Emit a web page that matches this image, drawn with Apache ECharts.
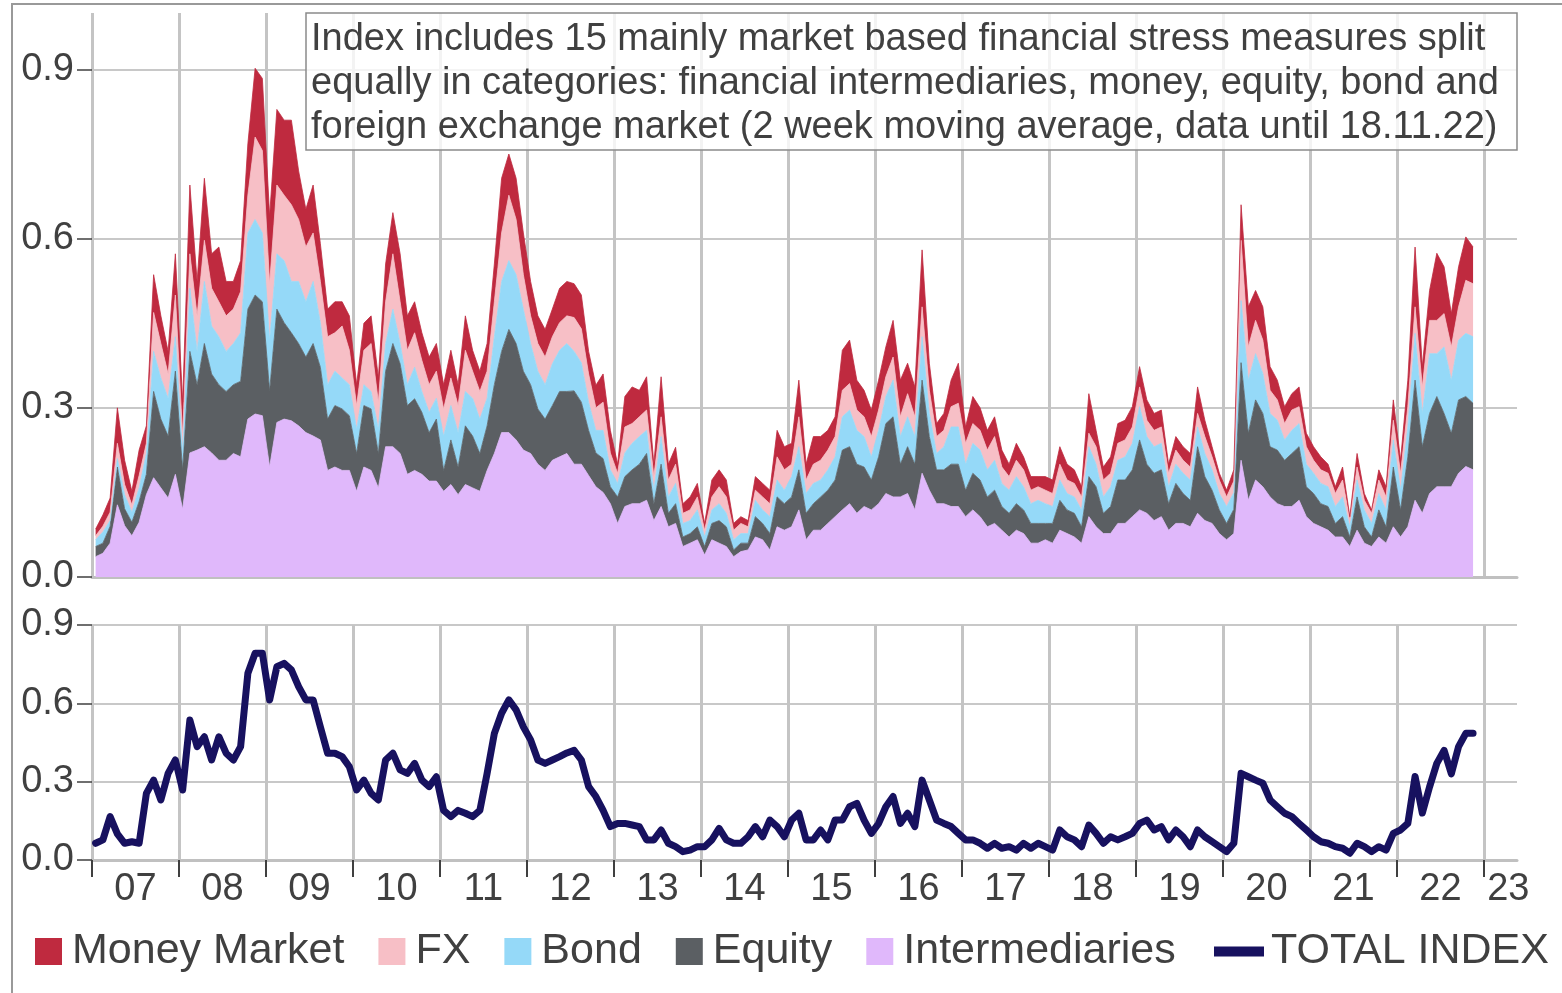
<!DOCTYPE html>
<html>
<head>
<meta charset="utf-8">
<title>Financial stress index</title>
<script src="https://cdn.jsdelivr.net/npm/echarts@6/dist/echarts.min.js"></script>
<style>
  html, body { margin: 0; padding: 0; background: #fff; }
  #chart { width: 1562px; height: 993px; }
</style>
</head>
<body>
<div id="chart"></div>
<script>
// monthly values, Jan 2007 .. Nov 2022 (one row per year)
const startYear = 2007;

const inter = [
  .036,.042,.060,.128,.091,.073,.097,.146,.176,.158,.140,.182,
  .120,.220,.225,.231,.220,.207,.207,.219,.213,.280,.289,.286,
  .195,.274,.280,.277,.268,.256,.250,.243,.189,.195,.189,.189,
  .152,.195,.189,.158,.231,.231,.219,.182,.189,.182,.170,.170,
  .152,.164,.146,.164,.158,.152,.189,.219,.256,.256,.243,.225,
  .219,.200,.189,.207,.213,.219,.200,.200,.180,.160,.150,.130,
  .095,.125,.130,.130,.136,.100,.125,.089,.095,.054,.060,.066,
  .039,.066,.060,.054,.036,.045,.048,.071,.066,.048,.089,.083,
  .089,.119,.066,.083,.083,.095,.107,.119,.130,.113,.125,.119,
  .130,.148,.142,.142,.148,.119,.184,.154,.130,.130,.125,.125,
  .107,.119,.107,.089,.095,.083,.071,.083,.077,.060,.060,.066,
  .060,.083,.077,.071,.060,.107,.089,.077,.077,.095,.095,.107,
  .119,.113,.100,.107,.083,.095,.095,.089,.113,.100,.095,.077,
  .066,.077,.207,.136,.172,.160,.142,.130,.125,.125,.136,.107,
  .095,.089,.083,.071,.071,.054,.083,.060,.054,.071,.060,.089,
  .071,.089,.136,.113,.148,.160,.160,.160,.184,.196,.190
];

const equity = [
  .018,.018,.030,.067,.030,.024,.037,.036,.153,.122,.110,.183,
  .070,.180,.116,.183,.140,.134,.122,.122,.134,.195,.211,.202,
  .135,.201,.171,.156,.146,.134,.164,.129,.091,.109,.109,.097,
  .067,.109,.109,.061,.134,.183,.159,.122,.127,.110,.086,.110,
  .037,.079,.049,.104,.092,.067,.079,.122,.144,.183,.171,.140,
  .122,.098,.091,.097,.116,.110,.130,.110,.080,.060,.060,.030,
  .047,.053,.060,.070,.083,.030,.075,.024,.035,.017,.017,.023,
  .015,.029,.040,.035,.012,.015,.012,.036,.029,.029,.053,.047,
  .053,.071,.047,.047,.059,.059,.065,.106,.101,.087,.070,.053,
  .083,.124,.142,.058,.083,.081,.165,.095,.060,.060,.075,.075,
  .047,.065,.065,.053,.059,.042,.042,.047,.042,.035,.035,.029,
  .035,.053,.042,.042,.029,.071,.071,.036,.048,.077,.077,.083,
  .124,.087,.084,.083,.047,.071,.053,.047,.118,.078,.059,.042,
  .029,.043,.173,.119,.142,.130,.089,.095,.082,.094,.095,.053,
  .053,.041,.042,.024,.036,.017,.059,.029,.017,.048,.029,.106,
  .048,.124,.213,.118,.142,.160,.130,.095,.130,.124,.118
];

const bond = [
  .012,.020,.010,.015,.025,.018,.024,.037,.071,.073,.067,.061,
  .030,.112,.059,.110,.085,.085,.071,.073,.086,.135,.134,.122,
  .090,.098,.110,.091,.110,.098,.110,.079,.061,.061,.055,.055,
  .043,.037,.031,.043,.049,.061,.036,.037,.056,.037,.036,.037,
  .061,.061,.061,.061,.067,.061,.049,.085,.124,.122,.122,.110,
  .073,.067,.061,.074,.073,.085,.070,.070,.050,.040,.050,.030,
  .024,.042,.047,.049,.041,.024,.049,.029,.036,.024,.023,.030,
  .017,.024,.030,.024,.018,.017,.017,.029,.024,.030,.030,.024,
  .036,.041,.035,.036,.030,.036,.041,.059,.065,.060,.054,.041,
  .047,.048,.065,.049,.053,.049,.077,.041,.029,.041,.066,.066,
  .046,.053,.053,.048,.053,.041,.041,.048,.041,.035,.041,.035,
  .030,.036,.029,.029,.030,.053,.040,.029,.035,.035,.041,.047,
  .059,.049,.047,.047,.030,.034,.036,.036,.035,.041,.036,.029,
  .030,.030,.110,.094,.082,.071,.059,.053,.036,.041,.041,.040,
  .036,.036,.035,.030,.035,.018,.030,.030,.024,.029,.030,.048,
  .035,.053,.083,.059,.106,.076,.118,.094,.106,.112,.118
];

const fx = [
  .007,.010,.015,.027,.018,.013,.022,.018,.069,.061,.043,.074,
  .030,.061,.063,.073,.067,.062,.063,.061,.073,.067,.146,.146,
  .100,.122,.116,.136,.110,.097,.086,.073,.085,.068,.092,.061,
  .042,.061,.085,.048,.074,.098,.074,.061,.061,.055,.049,.048,
  .048,.049,.048,.073,.048,.049,.048,.062,.086,.116,.098,.061,
  .049,.049,.049,.048,.049,.049,.060,.060,.050,.040,.050,.030,
  .018,.046,.035,.035,.036,.024,.035,.030,.034,.018,.019,.023,
  .012,.023,.030,.029,.017,.018,.012,.018,.023,.023,.041,.036,
  .022,.053,.024,.034,.035,.035,.036,.047,.047,.036,.035,.036,
  .036,.035,.041,.035,.041,.035,.053,.041,.030,.029,.036,.042,
  .037,.035,.035,.035,.042,.029,.024,.029,.030,.024,.024,.024,
  .023,.028,.024,.024,.023,.024,.031,.030,.024,.030,.030,.029,
  .035,.029,.029,.029,.024,.025,.023,.023,.024,.030,.023,.024,
  .017,.020,.107,.059,.059,.059,.041,.036,.029,.036,.030,.031,
  .023,.024,.024,.023,.030,.011,.023,.017,.018,.024,.023,.035,
  .030,.036,.047,.047,.059,.059,.059,.059,.059,.094,.094
];

const money = [
  .012,.020,.025,.063,.043,.024,.045,.031,.067,.049,.040,.073,
  .060,.122,.061,.110,.061,.097,.061,.049,.055,.091,.122,.128,
  .120,.134,.133,.150,.086,.067,.085,.067,.049,.055,.043,.061,
  .037,.048,.049,.043,.067,.073,.085,.061,.055,.049,.049,.049,
  .043,.049,.037,.061,.037,.036,.049,.067,.097,.073,.073,.074,
  .061,.049,.049,.049,.061,.061,.060,.060,.040,.040,.050,.040,
  .016,.054,.065,.047,.059,.022,.071,.028,.030,.017,.023,.024,
  .012,.030,.030,.030,.012,.012,.011,.024,.024,.024,.047,.041,
  .037,.065,.028,.049,.042,.035,.035,.071,.077,.053,.047,.047,
  .053,.053,.065,.065,.054,.053,.101,.048,.023,.030,.047,.071,
  .029,.048,.040,.035,.035,.030,.022,.030,.023,.024,.018,.024,
  .024,.031,.028,.024,.018,.070,.029,.023,.029,.035,.035,.036,
  .036,.036,.030,.030,.016,.024,.024,.024,.047,.029,.018,.012,
  .012,.020,.063,.071,.053,.059,.042,.035,.030,.029,.035,.024,
  .024,.023,.016,.012,.023,.007,.024,.012,.006,.018,.018,.036,
  .023,.047,.106,.036,.053,.119,.083,.059,.071,.077,.065
];

const total = [
  .064,.077,.166,.100,.064,.070,.064,.255,.306,.230,.332,.383,
  .268,.536,.434,.472,.383,.472,.409,.383,.434,.715,.792,.792,
  .613,.740,.753,.728,.664,.613,.613,.510,.409,.409,.396,.357,
  .268,.306,.255,.230,.383,.409,.345,.332,.370,.306,.281,.319,
  .190,.166,.190,.179,.166,.190,.332,.485,.562,.613,.575,.510,
  .460,.383,.370,.383,.396,.410,.420,.383,.281,.243,.190,.128,
  .140,.140,.134,.128,.077,.077,.115,.064,.051,.032,.038,.051,
  .051,.077,.121,.077,.064,.064,.089,.128,.089,.153,.128,.089,
  .153,.179,.077,.077,.115,.077,.153,.153,.204,.217,.153,.102,
  .140,.204,.243,.140,.179,.128,.306,.230,.153,.140,.128,.102,
  .077,.077,.064,.045,.064,.045,.051,.038,.064,.045,.064,.051,
  .038,.115,.089,.077,.051,.134,.102,.064,.089,.077,.089,.102,
  .140,.153,.115,.128,.077,.115,.089,.051,.115,.089,.070,.051,
  .032,.064,.332,.319,.306,.294,.230,.204,.179,.166,.140,.115,
  .089,.070,.064,.051,.045,.026,.064,.051,.032,.051,.038,.102,
  .115,.140,.320,.180,.280,.370,.420,.330,.434,.485,.485
];

const yearTicks = [2007,2008,2009,2010,2011,2012,2013,2014,2015,2016,2017,2018,2019,2020,2021,2022,2023];
const yearLabelPos = [2007.5,2008.5,2009.5,2010.5,2011.5,2012.5,2013.5,2014.5,2015.5,2016.5,2017.5,2018.5,2019.5,2020.5,2021.5,2022.5,2023.28];
const yTicks = [0, 0.3, 0.6, 0.9];

const note = [
  'Index includes 15 mainly market based financial stress measures split',
  'equally in categories: financial intermediaries, money, equity, bond and',
  'foreign exchange market (2 week moving average, data until 18.11.22)'
];

const colors = {
  money: '#bf2a3f',
  fx: '#f7bfc6',
  bond: '#95d9f8',
  equity: '#5b5f63',
  inter: '#e0b8fb',
  total: '#17115f'
};

// each monthly value sits in the middle of its month (decimal years)
const xs = total.map((_, i) => startYear + (i + 0.5) / 12);
// value first, year second: the stack is then taken on the value dimension
const pairs = arr => arr.map((v, i) => [v, xs[i]]);

const textColor = '#404040';
const xMin = 2007, xMax = 2023.38;

function areaSeries(name, arr, color) {
  return {
    name: name,
    type: 'line',
    stack: 'parts',
    xAxisIndex: 0,
    yAxisIndex: 0,
    data: pairs(arr),
    encode: { x: 1, y: 0 },
    showSymbol: false,
    color: color,
    lineStyle: { width: 0.8, color: color },
    areaStyle: { color: color, opacity: 1 }
  };
}

var myChart = echarts.init(document.getElementById('chart'));

var option = {
  animation: false,
  backgroundColor: '#fff',
  textStyle: { fontFamily: 'Liberation Sans, Arial, sans-serif', color: textColor },
  graphic: [{
    type: 'rect',
    shape: { x: 12, y: 4, width: 1600, height: 1100 },
    style: { fill: 'none', stroke: '#999', lineWidth: 2 },
    z: -10
  }],
  title: {
    text: note.join('\n'),
    left: 306,
    top: 13,
    padding: [5, 18, 0, 5],
    backgroundColor: 'rgba(255,255,255,0.8)',
    borderColor: '#8a8a8a',
    borderWidth: 1.5,
    textStyle: { fontSize: 38, fontWeight: 'normal', lineHeight: 44, color: textColor }
  },
  legend: [
    {
      data: ['Money Market', 'FX', 'Bond', 'Equity', 'Intermediaries'],
      left: 30, top: 925,
      icon: 'rect', itemWidth: 27, itemHeight: 27, itemGap: 34,
      textStyle: { fontSize: 43, color: textColor, padding: [0, 0, 0, 5] }
    },
    {
      data: ['TOTAL INDEX'],
      left: 1209, top: 925,
      icon: 'rect', itemWidth: 50, itemHeight: 10,
      textStyle: { fontSize: 43, color: textColor, padding: [0, 0, 0, 2] }
    }
  ],
  grid: [
    { left: 92, right: 45, top: 13, height: 564 },
    { left: 92, right: 45, top: 625, height: 235 }
  ],
  xAxis: [
    {
      gridIndex: 0, type: 'value', min: xMin, max: xMax,
      axisLine: { show: true, onZero: false, lineStyle: { color: '#c0c0c0', width: 3 } },
      axisTick: { show: false, customValues: yearTicks },
      axisLabel: { show: false },
      splitLine: { show: true, lineStyle: { color: '#c4c4c4', width: 3 } }
    },
    {
      gridIndex: 1, type: 'value', min: xMin, max: xMax,
      axisLine: { show: true, onZero: false, lineStyle: { color: '#c0c0c0', width: 3 } },
      axisTick: { show: true, length: 17, customValues: yearTicks, lineStyle: { color: textColor, width: 2 } },
      axisLabel: {
        customValues: yearLabelPos, fontSize: 38, color: textColor, margin: 11,
        formatter: v => String(Math.floor(v)).slice(2)
      },
      splitLine: { show: true, lineStyle: { color: '#c4c4c4', width: 3 } }
    }
  ],
  yAxis: [
    {
      gridIndex: 0, type: 'value', min: 0, max: 1.0,
      axisLine: { show: false },
      axisTick: { show: true, length: 15, customValues: yTicks, lineStyle: { color: textColor, width: 1.5 } },
      axisLabel: { customValues: yTicks, fontSize: 38, color: textColor, margin: 18, formatter: v => v.toFixed(1) },
      splitLine: { show: true, lineStyle: { color: '#c8c8c8', width: 2 } }
    },
    {
      gridIndex: 1, type: 'value', min: 0, max: 0.9, interval: 0.3,
      axisLine: { show: false },
      axisTick: { show: true, length: 15, lineStyle: { color: textColor, width: 1.5 } },
      axisLabel: { fontSize: 38, color: textColor, margin: 18, formatter: v => v.toFixed(1) },
      splitLine: { show: true, lineStyle: { color: '#c8c8c8', width: 2 } }
    }
  ],
  series: [
    areaSeries('Intermediaries', inter, colors.inter),
    areaSeries('Equity', equity, colors.equity),
    areaSeries('Bond', bond, colors.bond),
    areaSeries('FX', fx, colors.fx),
    areaSeries('Money Market', money, colors.money),
    {
      name: 'TOTAL INDEX',
      type: 'line',
      xAxisIndex: 1,
      yAxisIndex: 1,
      data: pairs(total),
      encode: { x: 1, y: 0 },
      showSymbol: false,
      color: colors.total,
      lineStyle: { width: 7, color: colors.total, join: 'round', cap: 'round' }
    }
  ]
};

myChart.setOption(option);
</script>
</body>
</html>
